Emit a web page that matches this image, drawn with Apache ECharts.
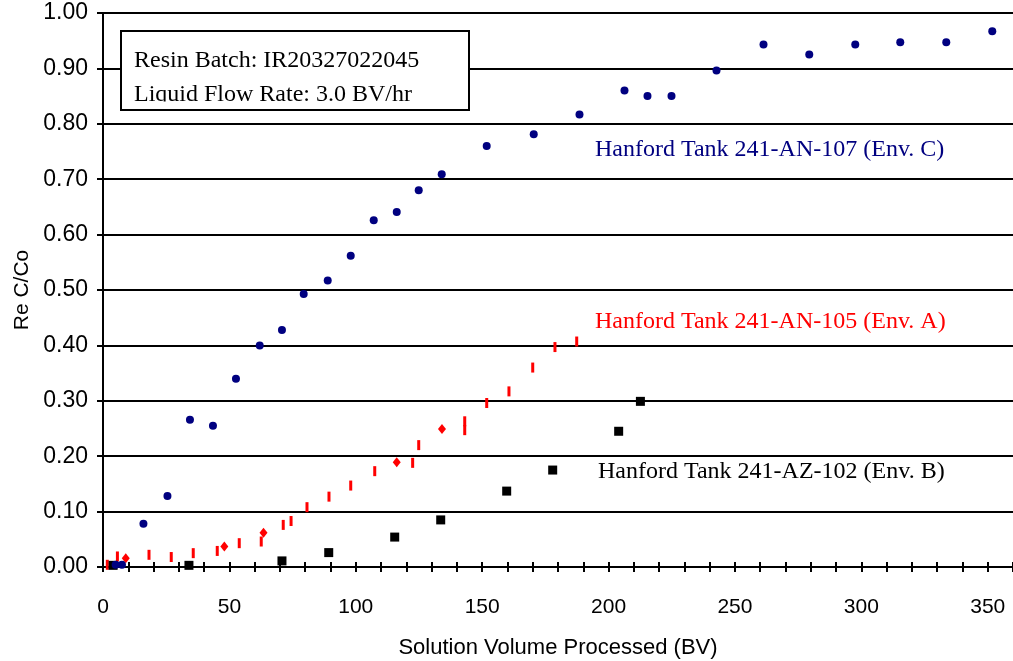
<!DOCTYPE html>
<html>
<head>
<meta charset="utf-8">
<script src="https://cdn.jsdelivr.net/npm/echarts@6/dist/echarts.min.js"></script>
<style>
html,body{margin:0;padding:0;background:#fff;}
#chart{width:1013px;height:661px;}
</style>
</head>
<body>
<div id="chart"></div>
<script>
// Hanford Tank 241-AN-107 (Env. C)
const envC_x = [5, 7.5, 16, 25.5, 34.4, 43.5, 52.6, 62, 70.8, 79.4, 88.9, 98, 107.1, 116.2, 124.9, 134, 151.8, 170.4, 188.5, 206.3, 215.4, 224.9, 242.7, 261.3, 279.4, 297.6, 315.4, 333.6, 351.8];
const envC_y = [0.004, 0.004, 0.078, 0.128, 0.266, 0.255, 0.34, 0.40, 0.428, 0.493, 0.517, 0.562, 0.626, 0.641, 0.68, 0.709, 0.76, 0.781, 0.817, 0.86, 0.85, 0.85, 0.896, 0.943, 0.925, 0.943, 0.947, 0.947, 0.967];

// Hanford Tank 241-AN-105 (Env. A) - dash markers
const envA_x = [1.7, 5.7, 18.2, 27, 35.7, 45.2, 53.9, 62.6, 71.3, 74.4, 80.7, 89.4, 98, 107.5, 122.5, 124.9, 143.1, 143.1, 151.8, 160.6, 170, 178.8, 187.4];
const envA_y = [0.004, 0.019, 0.022, 0.018, 0.025, 0.029, 0.043, 0.046, 0.076, 0.083, 0.108, 0.127, 0.147, 0.173, 0.188, 0.22, 0.247, 0.263, 0.296, 0.317, 0.36, 0.397, 0.407];
// Hanford Tank 241-AN-105 (Env. A) - diamond markers
const envA2_x = [9, 48, 63.5, 116.2, 134.1];
const envA2_y = [0.016, 0.037, 0.062, 0.189, 0.249];

// Hanford Tank 241-AZ-102 (Env. B)
const envB_x = [4, 34, 70.8, 89.3, 115.4, 133.6, 159.7, 177.9, 204, 212.6];
const envB_y = [0.003, 0.003, 0.011, 0.026, 0.054, 0.085, 0.137, 0.175, 0.245, 0.299];

const annotations = [
  {text: 'Hanford Tank 241-AN-107 (Env. C)', color: '#000080'},
  {text: 'Hanford Tank 241-AN-105 (Env. A)', color: '#FF0000'},
  {text: 'Hanford Tank 241-AZ-102 (Env. B)', color: '#000000'}
];
const boxLines = ['Resin Batch: IR20327022045', 'Liquid Flow Rate: 3.0 BV/hr'];
const xTitle = 'Solution Volume Processed (BV)';
const yTitle = 'Re C/Co';

function pairs(xs, ys){ return xs.map((x,i)=>[x, ys[i]]); }

const chart = echarts.init(document.getElementById('chart'), null, {renderer:'canvas'});
const sans = '"Liberation Sans", Arial, sans-serif';
const serif = '"Liberation Serif", "Times New Roman", serif';
const annPos = [[595,150],[595,322],[598,472]];

chart.setOption({
  animation: false,
  backgroundColor: '#ffffff',
  grid: {left: 103, top: 13, width: 910, bottom: 94, containLabel: false, outerBoundsMode: 'none'},
  xAxis: [{
    type: 'value', min: 0, max: 360, interval: 10,
    name: xTitle, nameLocation: 'middle', nameGap: 70,
    nameTextStyle: {color:'#000', fontFamily: sans, fontSize: 22},
    axisLine: {show:true, onZero:false, lineStyle:{color:'#000', width:2}},
    axisTick: {show:true, length:5, lineStyle:{color:'#000', width:2}},
    axisLabel: {color:'#000', fontFamily: sans, fontSize: 21, margin: 30,
      formatter: v => (v % 50 === 0 ? String(v) : ''), showMaxLabel: true},
    splitLine: {show:false}
  },{
    type: 'value', min: 0, max: 360, interval: 10, position: 'bottom',
    axisLine: {show:false},
    axisTick: {show:true, inside:true, length:5, lineStyle:{color:'#000', width:2}},
    axisLabel: {show:false},
    splitLine: {show:false}
  }],
  yAxis: {
    type: 'value', min: 0, max: 1, interval: 0.1,
    name: yTitle, nameLocation: 'middle', nameGap: 70, nameRotate: 90,
    nameTextStyle: {color:'#000', fontFamily: sans, fontSize: 21},
    axisLine: {show:true, lineStyle:{color:'#000', width:2}},
    axisTick: {show:true, length:6, lineStyle:{color:'#000', width:2}},
    axisLabel: {color:'#000', fontFamily: sans, fontSize: 23, margin: 15,
      formatter: v => v.toFixed(2)},
    splitLine: {show:true, lineStyle:{color:'#000', width:2}}
  },
  series: [
    {type:'scatter', name:'Env. A', data: pairs(envA_x, envA_y), symbol:'rect', symbolSize:[3,10],
      itemStyle:{color:'#FF0000', opacity:1}, z: 2},
    {type:'scatter', name:'Env. A (b)', data: pairs(envA2_x, envA2_y), symbol:'diamond', symbolSize:[8,10],
      itemStyle:{color:'#FF0000', opacity:1}, z: 2},
    {type:'scatter', name:'Env. B', data: pairs(envB_x, envB_y), symbol:'rect', symbolSize:9,
      itemStyle:{color:'#000000', opacity:1}, z: 3},
    {type:'scatter', name:'Env. C', data: pairs(envC_x, envC_y), symbol:'circle', symbolSize:8,
      itemStyle:{color:'#000080', opacity:1}, z: 4}
  ],
  graphic: [
    {type:'rect', shape:{x:121, y:31, width:348, height:79}, style:{fill:'#fff', stroke:null}, z: 100},
    {type:'text', x:134, y:61, style:{text: boxLines[0], font: '24px ' + serif, fill:'#000', verticalAlign:'middle', align:'left'}, z: 101},
    {type:'text', x:134, y:95, style:{text: boxLines[1], font: '24px ' + serif, fill:'#000', verticalAlign:'middle', align:'left'}, z: 101},
    {type:'rect', shape:{x:122, y:101.5, width:346, height:8}, style:{fill:'#fff', stroke:null}, z: 102},
    {type:'rect', shape:{x:121, y:31, width:348, height:79}, style:{fill:null, stroke:'#000', lineWidth:2}, z: 103}
  ].concat(annotations.map((a,i)=>({
    type:'text', x: annPos[i][0], y: annPos[i][1],
    style:{text: a.text, font: '24px ' + serif, fill: a.color, verticalAlign:'middle', align:'left'}, z: 100
  })))
});
</script>
</body>
</html>
